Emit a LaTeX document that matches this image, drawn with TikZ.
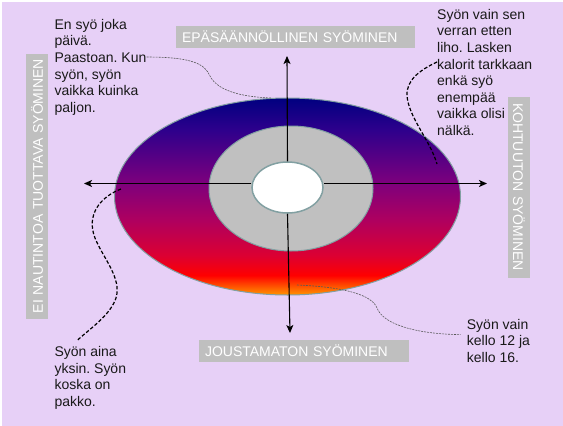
\documentclass[tikz,border=0pt]{standalone}
\usepackage{fontspec}
\setmainfont{Liberation Sans}
\usepackage{xcolor}
\usepackage{tikz}
\usetikzlibrary{shapes.geometric,arrows.meta}

\definecolor{lavender}{RGB}{231,208,247}
\definecolor{labelgray}{RGB}{191,191,191}
\definecolor{ringedge}{RGB}{130,160,162}
\definecolor{ringgray}{RGB}{192,192,192}
\definecolor{navyb}{RGB}{0,0,128}
\definecolor{indigob}{RGB}{45,0,140}
\definecolor{purpleb}{RGB}{125,0,125}
\definecolor{magentab}{RGB}{175,0,95}
\definecolor{crimsonb}{RGB}{220,0,50}
\definecolor{redb}{RGB}{255,0,0}
\definecolor{orangeb}{RGB}{255,150,0}

\pgfdeclareverticalshading{ovalshade}{100bp}{color(0bp)=(orangeb); color(25bp)=(orangeb); color(30bp)=(redb); color(35bp)=(crimsonb); color(44bp)=(magentab); color(53.5bp)=(purpleb); color(67bp)=(indigob); color(75bp)=(navyb); color(100bp)=(navyb)}

\begin{document}
\frenchspacing
\begin{tikzpicture}[x=1pt, y=-1pt, every node/.style={font=\fontsize{14}{16.6}\selectfont},
    axislabel/.style={fill=labelgray, text=white, inner xsep=6pt, inner ysep=0pt, minimum height=22pt, align=left},
    notetxt/.style={anchor=north west, inner sep=0pt, align=left, text=black!90},
    thinlead/.style={dash pattern=on 2pt off 1pt, line width=0.6pt, black!65},
    thicklead/.style={dash pattern=on 3.5pt off 2pt, line width=1.2pt},
    axisarrow/.style={line width=1.1pt, -{Stealth[length=8pt,width=7pt,inset=2pt]}}]
    % Background
    \useasboundingbox (0,0) rectangle (563,426);
    \fill[white] (0,0) rectangle (563,426);
    \fill[lavender] (2,2) rectangle (563,426);

    % Rings
    \shadedraw[shading=ovalshade, draw=ringedge, line width=1pt] (287.5,196.5) ellipse [x radius=173, y radius=98.5];
    \filldraw[fill=ringgray, draw=ringedge, line width=1pt] (291,188.5) ellipse [x radius=82, y radius=62.5];
    \node[ellipse, draw=ringedge, fill=white, line width=1.5pt, minimum width=71pt, minimum height=51pt, inner sep=0pt] (core) at (287.5,187.5) {};

    % Axes
    \coordinate (tipN) at (287,56);
    \coordinate (tipS) at (290,333);
    \coordinate (tipW) at (84,183.5);
    \coordinate (tipE) at (487,183.5);
    \draw[axisarrow] (core.north) -- (tipN);
    \draw[axisarrow] (core.south) -- (tipS);
    \draw[axisarrow] (core.west |- tipW) -- (tipW);
    \draw[axisarrow] (core.east |- tipE) -- (tipE);

    % Axis labels
    \node[axislabel, text width=227pt] (irregular) at (295.5,37) {\mbox{EPÄSÄÄNNÖLLINEN SYÖMINEN}};
    \node[axislabel, text width=198pt] (rigid) at (304,351) {\mbox{JOUSTAMATON SYÖMINEN}};
    \node[axislabel, text width=253pt, rotate=90] (joyless) at (37,186.5) {\mbox{EI NAUTINTOA TUOTTAVA SYÖMINEN}};
    \node[axislabel, text width=169pt, rotate=-90] (excessive) at (519,187.5) {\mbox{KOHTUUTON SYÖMINEN}};

    % Notes
    \node[notetxt] (fastnote) at (54.3,19) {En syö joka\\päivä.\\Paastoan. Kun\\syön, syön\\vaikka kuinka\\paljon.};
    \node[notetxt] (caloriesnote) at (437,9) {Syön vain sen\\verran etten\\liho. Lasken\\kalorit tarkkaan\\enkä syö\\enempää\\vaikka olisi\\nälkä.};
    \node[notetxt] (alonenote) at (54.3,346.4) {Syön aina\\yksin. Syön\\koska on\\pakko.};
    \node[notetxt] (clocknote) at (466.7,318.7) {Syön vain\\kello 12 ja\\kello 16.};

    % Leaders
    \coordinate (fastpt) at (271,98);
    \coordinate (calpt) at (437,164);
    \coordinate (alonept) at (121,189);
    \coordinate (clockpt) at (297,285);
    \draw[thinlead] (fastnote.east |- 0,57) .. controls (195,57) and (205,65) .. (210,76) .. controls (218,92) and (245,97) .. (fastpt);
    \draw[thicklead] (caloriesnote.west |- 0,62) .. controls (420,70) and (406,80) .. (407,96) .. controls (409,118) and (430,140) .. (calpt);
    \draw[thicklead] (alonept) .. controls (100,197) and (86,215) .. (95,238) .. controls (103,258) and (122,278) .. (116,298) .. controls (110,316) and (88,330) .. ([xshift=23pt,yshift=6pt]alonenote.north west);
    \draw[thinlead] (clockpt) .. controls (345,287) and (372,295) .. (377,308) .. controls (383,324) and (415,334) .. ([xshift=-6pt,yshift=6pt]clocknote.west);
\end{tikzpicture}
\end{document}
